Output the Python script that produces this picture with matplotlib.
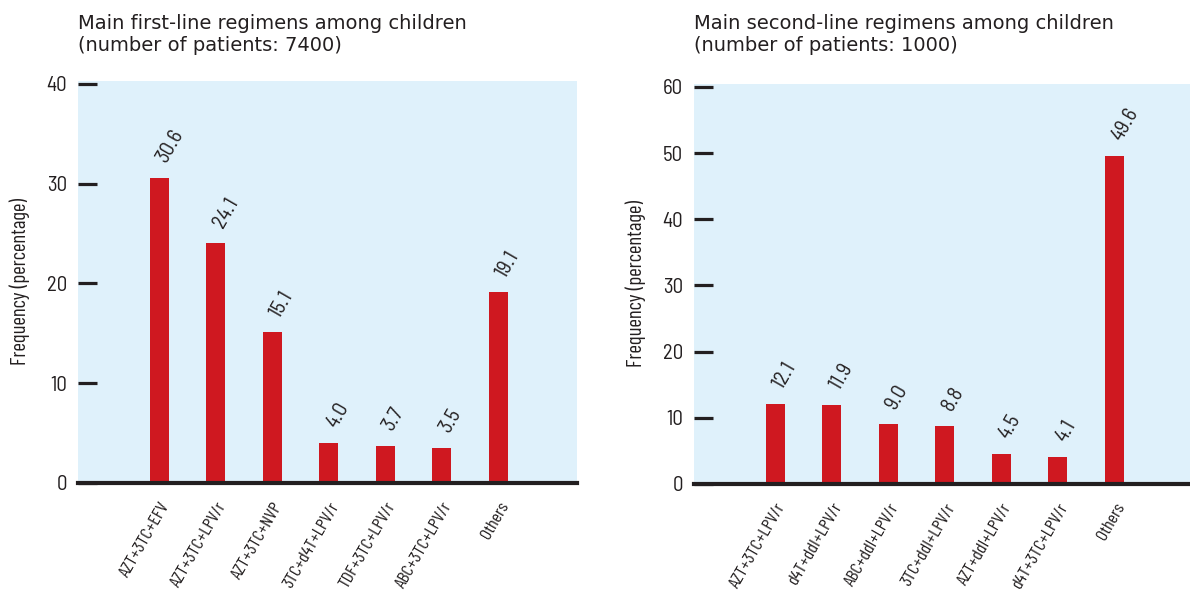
import matplotlib.pyplot as plt

# Data
first_line_labels = ["AZT+3TC+EFV", "AZT+3TC+LPV/r", "AZT+3TC+NVP", "3TC+d4T+LPV/r",
                     "TDF+3TC+LPV/r", "ABC+3TC+LPV/r", "Others"]
first_line_values = [30.6, 24.1, 15.1, 4.0, 3.7, 3.5, 19.1]

second_line_labels = ["AZT+3TC+LPV/r", "d4T+ddI+LPV/r", "ABC+ddI+LPV/r", "3TC+ddI+LPV/r",
                      "AZT+ddI+LPV/r", "d4T+3TC+LPV/r", "Others"]
second_line_values = [12.1, 11.9, 9.0, 8.8, 4.5, 4.1, 49.6]

first_title = "Main first-line regimens among children\n(number of patients: 7400)"
second_title = "Main second-line regimens among children\n(number of patients: 1000)"

# Style
TITLE_FONT = ["DejaVu Sans"]
NUM_FONT = ["Barlow Semi Condensed", "DejaVu Sans"]
VALUE_FONT = ["Barlow Semi Condensed", "DejaVu Sans"]
LABEL_FONT = ["Barlow Condensed", "DejaVu Sans"]
plt.rcParams['font.family'] = NUM_FONT

DARK = "#231f20"
RED = "#cf1820"
BG = "#dff1fb"


def draw_panel(fig, rect, labels, values, ymax, yticks, xlim, title):
    ax = fig.add_axes(rect)
    ax.set_facecolor(BG)
    x = range(len(labels))
    ax.bar(x, values, width=0.34, color=RED, zorder=2)

    for xi, v in zip(x, values):
        ax.annotate(f"{v:.1f}", (xi, v), xytext=(7.5, 8.5), textcoords="offset points",
                    rotation=60, rotation_mode="anchor", ha="left", va="bottom",
                    fontsize=15, color=DARK, family=VALUE_FONT)

    ax.set_xlim(*xlim)
    ax.set_ylim(0, ymax)
    ax.set_yticks(yticks)
    ax.tick_params(axis="y", direction="in", length=14, width=2.3, color=DARK,
                   labelsize=15, labelcolor=DARK, pad=8)
    ax.set_xticks(list(x))
    ax.set_xticklabels(labels, rotation=60, ha="right", rotation_mode="anchor",
                       fontsize=13, color=DARK, family=LABEL_FONT)
    ax.tick_params(axis="x", length=0, pad=12)

    for side in ["top", "right", "left"]:
        ax.spines[side].set_visible(False)
    ax.spines["bottom"].set_linewidth(3)
    ax.spines["bottom"].set_color(DARK)
    ax.spines["bottom"].set_zorder(3)

    ax.set_ylabel("Frequency (percentage)", fontsize=15, color=DARK, labelpad=12,
                  family=LABEL_FONT)
    fig.text(rect[0], 0.977, title, ha="left", va="top", fontsize=14,
             color=DARK, linespacing=1.2, family=TITLE_FONT)
    return ax


fig = plt.figure(figsize=(11.9, 5.9), dpi=100)

draw_panel(fig, [0.0655, 0.1814, 0.4193, 0.6814], first_line_labels, first_line_values,
           40.3, [0, 10, 20, 30, 40], (-1.44, 7.39), first_title)
draw_panel(fig, [0.5832, 0.1797, 0.4168, 0.6780], second_line_labels, second_line_values,
           60.45, [0, 10, 20, 30, 40, 50, 60], (-1.44, 7.34), second_title)

fig.savefig("out.png", dpi=100)
